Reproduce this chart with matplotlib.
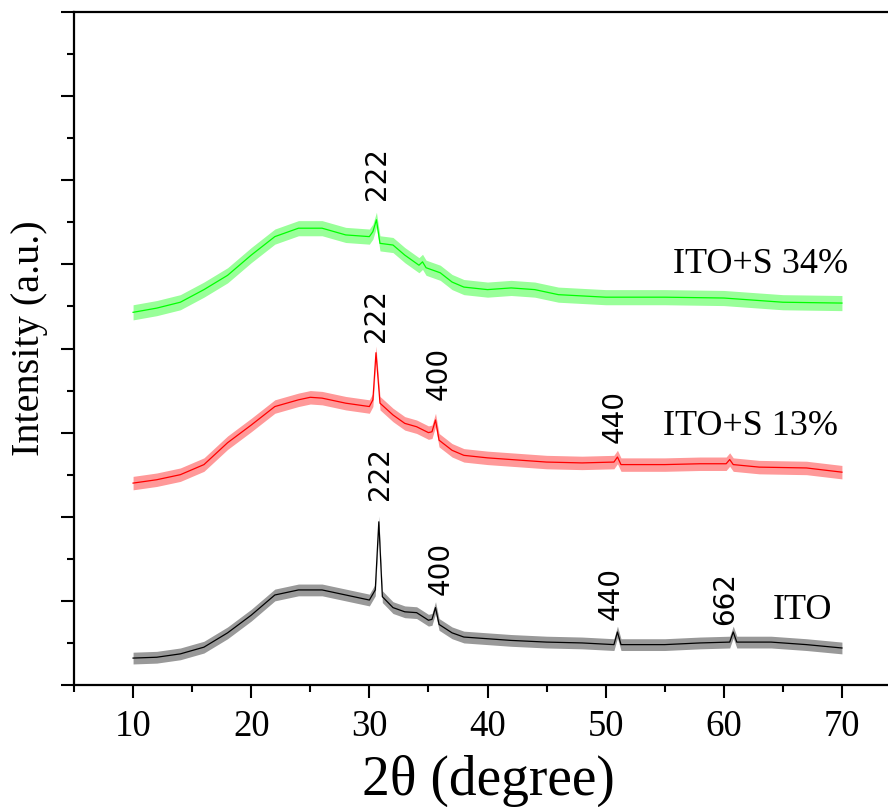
import numpy as np
import matplotlib
matplotlib.use("Agg")
import matplotlib.pyplot as plt

# ITO (black)
ito_x = [10, 12, 14, 16, 18, 20, 22, 24, 26, 28, 30, 30.5, 30.8, 31.1, 32, 33, 34, 35,
         35.3, 35.6, 35.9, 37, 38, 40, 42, 45, 48, 50.7, 51, 51.3, 55, 58, 60.5, 60.8,
         61.1, 64, 67, 70]
ito_y = [0.32, 0.33, 0.37, 0.45, 0.62, 0.83, 1.07, 1.13, 1.13, 1.07, 1.01, 1.13, 1.94,
         1.05, 0.92, 0.87, 0.86, 0.77, 0.78, 0.92, 0.72, 0.62, 0.57, 0.55, 0.53, 0.51,
         0.50, 0.48, 0.63, 0.48, 0.48, 0.50, 0.51, 0.63, 0.51, 0.51, 0.48, 0.44]

# ITO+S 13% (red)
s13_x = [10, 12, 14, 16, 18, 20, 22, 24, 25, 26, 28, 30, 30.3, 30.56, 30.9, 32, 33, 34,
         35, 35.3, 35.6, 35.9, 37, 38, 40, 42, 45, 48, 50.7, 51, 51.3, 55, 58, 60.2,
         60.5, 60.8, 63, 67, 70]
s13_y = [2.40, 2.44, 2.50, 2.62, 2.88, 3.09, 3.31, 3.39, 3.42, 3.41, 3.35, 3.31, 3.39,
         3.95, 3.35, 3.21, 3.11, 3.07, 3.00, 3.01, 3.15, 2.91, 2.79, 2.73, 2.70, 2.68,
         2.65, 2.64, 2.65, 2.71, 2.62, 2.62, 2.63, 2.63, 2.68, 2.62, 2.59, 2.58, 2.53]

# ITO+S 34% (green)
s34_x = [10, 12, 14, 16, 18, 20, 22, 24, 26, 28, 30, 30.3, 30.6, 30.9, 32, 33, 34.2,
         34.5, 34.8, 36, 37, 38, 40, 42, 44, 46, 50, 55, 60, 65, 70]
s34_y = [4.43, 4.48, 4.55, 4.70, 4.87, 5.11, 5.33, 5.43, 5.43, 5.35, 5.33, 5.39, 5.53,
         5.25, 5.23, 5.11, 4.99, 5.03, 4.96, 4.90, 4.79, 4.73, 4.70, 4.72, 4.70, 4.64,
         4.61, 4.61, 4.60, 4.55, 4.54]

# noise half-width of each trace
noise = {"ito": 0.07, "s13": 0.08, "s34": 0.09}

# peak labels: (text, x, y-bottom)
peak_labels = [("222", 30.9, 2.20), ("400", 36.0, 1.07), ("440", 50.4, 0.77),
               ("662", 60.1, 0.71),
               ("222", 30.56, 4.08), ("400", 35.9, 3.39), ("440", 50.8, 2.88),
               ("222", 30.65, 5.77)]

sample_labels = [("ITO", 69.2, 0.78), ("ITO+S 13%", 69.66, 2.97), ("ITO+S 34%", 70.5, 4.90)]

serif = "Liberation Serif"

fig = plt.figure(figsize=(8.88, 8.07), dpi=100)
ax = fig.add_axes([74 / 888, 122 / 807, (901 - 74) / 888, 673 / 807])

series = [(ito_x, ito_y, "black", noise["ito"]),
          (s13_x, s13_y, "#ff0000", noise["s13"]),
          (s34_x, s34_y, "#00ff00", noise["s34"])]
for xs, ys, col, nz in series:
    xs = np.array(xs)
    ys = np.array(ys)
    # noisy band + mean trace
    ax.fill_between(xs, ys - nz, ys + nz, color=col, alpha=0.4, lw=0)
    ax.plot(xs, ys, color=col, lw=0.9)

for txt, x, y in peak_labels:
    ax.text(x, y, txt, rotation=90, ha="center", va="bottom",
            fontsize=20, family="DejaVu Sans")

for txt, x, y in sample_labels:
    ax.text(x, y, txt, ha="right", va="baseline", fontsize=26, family=serif)

ax.set_xlim(5, 75)
ax.set_ylim(0, 8)
ax.set_xticks([10, 20, 30, 40, 50, 60, 70])
ax.set_xticks([5, 15, 25, 35, 45, 55, 65], minor=True)
ax.set_yticks(np.arange(0, 9, 1))
ax.set_yticks(np.arange(0.5, 8, 1), minor=True)
ax.set_yticklabels([])
ax.tick_params(which="major", length=9.5, width=1.5, direction="out", pad=8)
ax.tick_params(which="minor", length=5, width=1.5, direction="out")
for lab in ax.get_xticklabels():
    lab.set_fontfamily(serif)
    lab.set_fontsize(26.5)
for sp in ax.spines.values():
    sp.set_linewidth(1.6)

fig.text(488 / 888, 12 / 807, "2θ (degree)", ha="center", va="baseline",
         fontsize=40, family=[serif, "DejaVu Serif"])
fig.text(30 / 888, 1 - 338 / 807, "Intensity (a.u.)", rotation=90, ha="center",
         va="center", fontsize=29, family=serif)

fig.savefig("out.png", dpi=100)
